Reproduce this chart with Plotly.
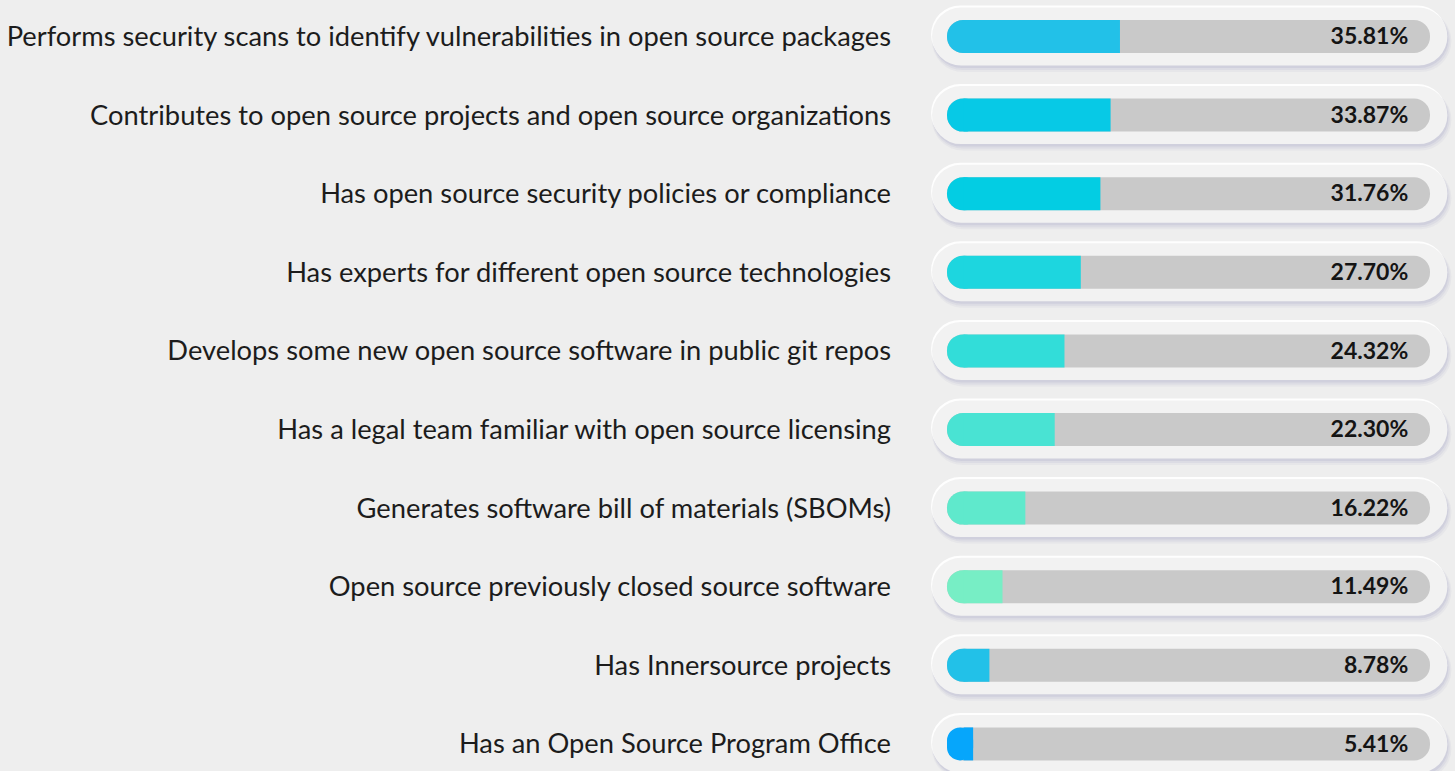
import plotly.graph_objects as go

# Survey results: share of organisations with each open source practice
practices = [
    "Performs security scans to identify vulnerabilities in open source packages",
    "Contributes to open source projects and open source organizations",
    "Has open source security policies or compliance",
    "Has experts for different open source technologies",
    "Develops some new open source software in public git repos",
    "Has a legal team familiar with open source licensing",
    "Generates software bill of materials (SBOMs)",
    "Open source previously closed source software",
    "Has Innersource projects",
    "Has an Open Source Program Office",
]
shares = [35.81, 33.87, 31.76, 27.70, 24.32, 22.30, 16.22, 11.49, 8.78, 5.41]
fill_colors = [
    "#22c1e8", "#07c9e6", "#03cde3", "#1dd6df", "#32ddd9",
    "#49e3d3", "#5fe9cc", "#77eec5", "#22c1e8", "#06a6fb",
]

rows = list(range(len(practices)))
n = len(rows)

W, H = 1455, 771
PX_X = 4.83          # pixels per percentage point
ROW_PX = 78.6        # pixels between rows
X0_PX = 947          # pixel position of 0 %
PLOT_L = 900
Y0_PX = 36.5         # pixel centre of first row

def py(px):
    """vertical pixel length -> y units"""
    return px / ROW_PX

def pxx(px):
    """horizontal pixel length -> x units"""
    return px / PX_X

TRACK_PX = 33
TRACK_H = py(TRACK_PX)
PILL_H = py(58)
PILL_LO, PILL_HI = -3.1, 103.6
CAP = pxx(TRACK_PX)   # length of the rounded end cap in x units

fig = go.Figure()

def pill(dx_px, dy_px, grow_px, color):
    fig.add_trace(go.Bar(
        y=[r + py(dy_px) for r in rows],
        x=[PILL_HI - PILL_LO + pxx(2 * grow_px)] * n,
        base=[PILL_LO + pxx(dx_px - grow_px)] * n,
        orientation="h",
        width=PILL_H + py(2 * grow_px),
        marker=dict(color=color, cornerradius="50%", line=dict(width=0)),
        hoverinfo="skip", showlegend=False,
    ))

# soft drop shadow below and to the right of each pill
pill(2.0, 4.5, 2.0, "rgba(170,170,200,0.10)")
pill(1.5, 3.5, 1.0, "rgba(165,165,198,0.14)")
pill(1.0, 2.5, 0.0, "rgba(160,160,195,0.20)")
# light edge on the top-left
pill(-1.0, -2.0, 0.0, "rgba(255,255,255,0.9)")
# pill face
pill(0, 0, 0, "#f2f2f2")

# grey track
fig.add_trace(go.Bar(
    y=rows, x=[100] * n, base=[0] * n, orientation="h", width=TRACK_H,
    marker=dict(color="#c9c9c9", cornerradius="50%", line=dict(width=0)),
    hoverinfo="skip", showlegend=False,
))

# coloured fill: rounded left cap ...
fig.add_trace(go.Bar(
    y=rows, x=[min(v, CAP) for v in shares], base=[0] * n,
    orientation="h", width=TRACK_H,
    marker=dict(color=fill_colors, cornerradius="50%", line=dict(width=0)),
    hoverinfo="skip", showlegend=False,
))
# ... and a square body up to the value
fig.add_trace(go.Bar(
    y=rows, x=[v - CAP / 2 for v in shares], base=[CAP / 2] * n,
    orientation="h", width=TRACK_H,
    marker=dict(color=fill_colors, line=dict(width=0)),
    hoverinfo="skip", showlegend=False,
))

# value labels at the right end of each track
fig.add_trace(go.Scatter(
    y=[r + py(2) for r in rows], x=[95.5] * n, mode="text",
    text=[f"{v:.2f}%" for v in shares],
    textposition="middle left",
    textfont=dict(family="Lato", size=23, color="#141414", weight="bold"),
    hoverinfo="skip", showlegend=False,
))

x_lo = (PLOT_L - X0_PX) / PX_X
x_hi = (W - X0_PX) / PX_X
y_top = -Y0_PX / ROW_PX
y_bot = (H - Y0_PX) / ROW_PX

fig.update_layout(
    width=W, height=H,
    margin=dict(l=PLOT_L, r=0, t=0, b=0),
    paper_bgcolor="#eeeeee", plot_bgcolor="#eeeeee",
    barmode="overlay",
    xaxis=dict(range=[x_lo, x_hi], visible=False, fixedrange=True),
    yaxis=dict(
        range=[y_bot, y_top], tickvals=rows, ticktext=practices,
        showgrid=False, zeroline=False, showline=False, ticks="",
        ticklabelstandoff=8, automargin=False, fixedrange=True,
        tickfont=dict(family="Lato", size=27.3, color="#1c1c1c"),
    ),
)

fig.write_html("out.html")
